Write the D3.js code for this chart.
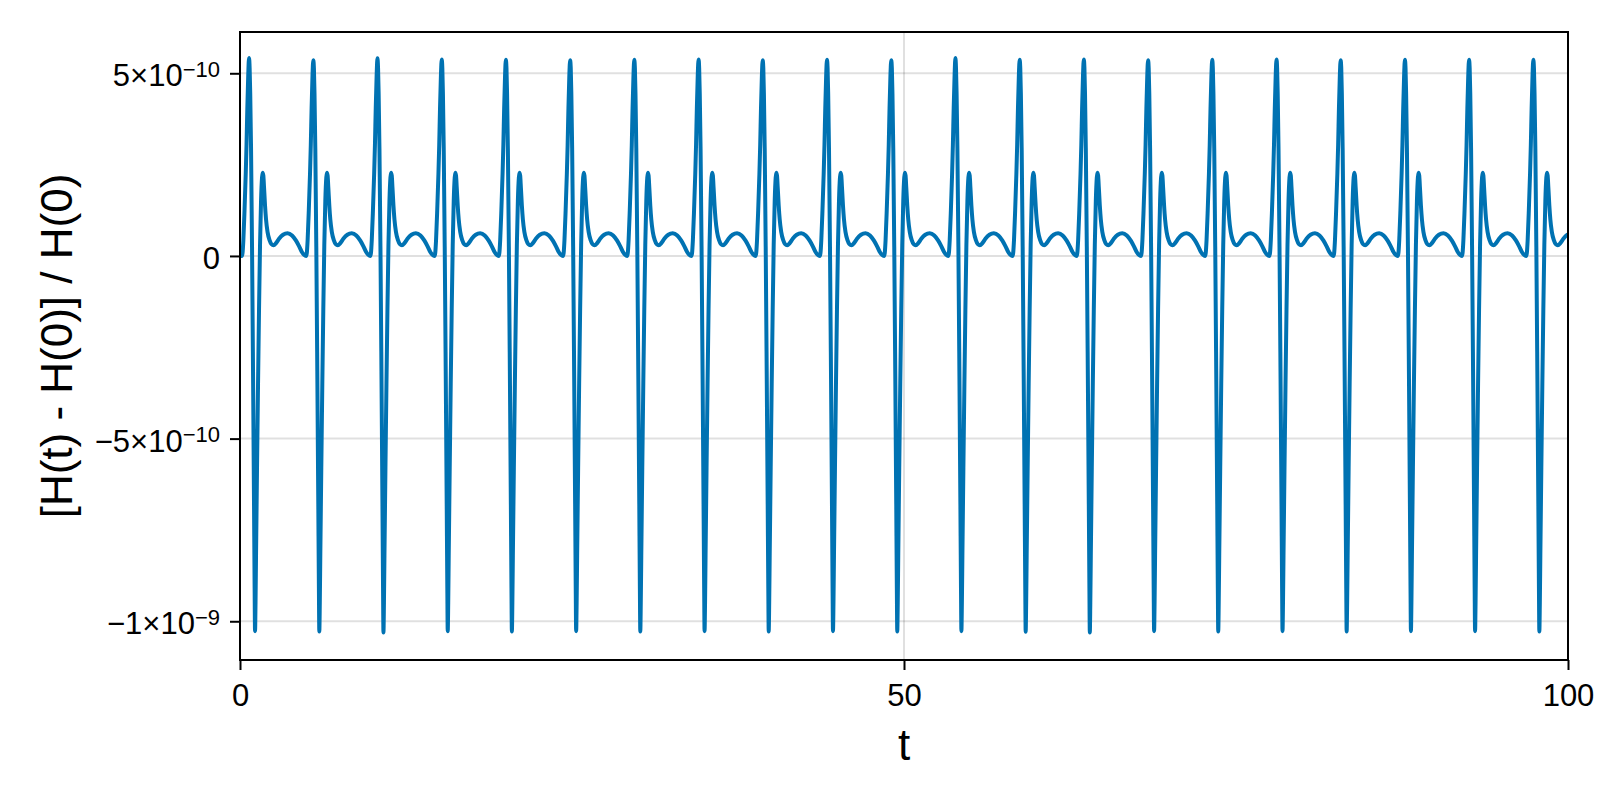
<!DOCTYPE html>
<html>
<head>
<meta charset="utf-8">
<script src="https://cdn.jsdelivr.net/npm/d3@7"></script>
<style>
  html, body { margin: 0; padding: 0; background: #fff; }
  svg { display: block; }
  text { font-family: "Liberation Sans", Arial, Helvetica, sans-serif; fill: #000; }
</style>
</head>
<body>
<div id="chart"></div>
<script>
// values on the y axis are in units of 1e-10

// time of each main spike
const peakTimes = [0.68, 5.52, 10.35, 15.19, 20.02, 24.86, 29.69, 34.53, 39.36, 44.20, 49.04,
  53.87, 58.71, 63.54, 68.38, 73.21, 78.05, 82.88, 87.72, 92.55, 97.39];
// height of the spike and depth of the dip that follows it, per cycle
const peakVals = [5.42, 5.36, 5.41, 5.38, 5.37, 5.36, 5.37, 5.38, 5.36, 5.37, 5.36,
  5.42, 5.37, 5.38, 5.36, 5.37, 5.38, 5.36, 5.37, 5.37, 5.37];
const dipVals = [-10.27, -10.28, -10.31, -10.27, -10.28, -10.27, -10.28, -10.27, -10.28, -10.27, -10.28,
  -10.27, -10.29, -10.31, -10.27, -10.28, -10.27, -10.28, -10.27, -10.27, -10.28];

// shape of one cycle: time offset from the spike, and value
const cycleOffsets = [-0.542, -0.489, -0.429, -0.339, -0.248, -0.188, -0.128, -0.060, 0,
  0.045, 0.090, 0.151, 0.226, 0.301, 0.377, 0.422, 0.452, 0.489, 0.527, 0.602, 0.678,
  0.753, 0.828, 0.904, 0.979, 1.024, 1.077, 1.130, 1.205, 1.280, 1.393, 1.544, 1.694,
  1.845, 2.033, 2.259, 2.560, 2.899, 3.238, 3.539, 3.765, 3.991, 4.142];
const cycleValues = [0.00, 0.08, 0.42, 1.25, 2.25, 3.05, 4.05, 4.95, 5.39,
  5.15, 4.45, 2.95, 0.25, -3.15, -6.85, -9.10, -10.28, -9.50, -8.20, -5.80, -3.50,
  -1.45, 0.30, 1.50, 2.15, 2.28, 2.20, 1.88, 1.38, 1.00, 0.66, 0.43, 0.32,
  0.29, 0.35, 0.47, 0.58, 0.62, 0.56, 0.42, 0.27, 0.10, 0.03];

const xTicks = [0, 50, 100];
const xTickLabels = ["0", "50", "100"];
const yTicks = [-10, -5, 0, 5];
const yTickBase = ["\u22121\u00d710", "\u22125\u00d710", "0", "5\u00d710"];
const yTickExp = ["\u22129", "\u221210", "", "\u221210"];

const xLabel = "t";
const yLabel = "[H(t) - H(0)] / H(0)";

const width = 1600, height = 800;
const margin = { left: 240, right: 32, top: 32, bottom: 140 };
const lineColor = "#0072b2";

let x = d3.scaleLinear().domain([0, 100]).range([margin.left, width - margin.right]);
let y = d3.scaleLinear().domain([-11.06, 6.13]).range([height - margin.bottom, margin.top]);

// Build the series from the start value and the cycles
let series = [[0, 0]];
let peakIdx = cycleOffsets.indexOf(0);
let dipIdx = cycleValues.indexOf(d3.min(cycleValues));
peakTimes.forEach(function (p, k) {
  cycleOffsets.forEach(function (o, i) {
    let v = cycleValues[i];
    if (i === peakIdx) v = peakVals[k];
    if (i === dipIdx) v = dipVals[k];
    if (p + o > 0) series.push([p + o, v]);
  });
});

let svg = d3.select("#chart").append("svg")
  .attr("width", width)
  .attr("height", height);

svg.append("rect")
  .attr("width", width)
  .attr("height", height)
  .style("fill", "white");

let x0 = x.range()[0], x1 = x.range()[1];
let y0 = y.range()[1], y1 = y.range()[0];

// grid
svg.append("g").selectAll("line")
  .data(xTicks)
  .enter().append("line")
  .attr("x1", d => x(d)).attr("x2", d => x(d))
  .attr("y1", y0).attr("y2", y1)
  .style("stroke", "rgba(0,0,0,0.12)")
  .style("stroke-width", 2);

svg.append("g").selectAll("line")
  .data(yTicks)
  .enter().append("line")
  .attr("x1", x0).attr("x2", x1)
  .attr("y1", d => y(d)).attr("y2", d => y(d))
  .style("stroke", "rgba(0,0,0,0.12)")
  .style("stroke-width", 2);

svg.append("clipPath")
  .attr("id", "plot-clip")
  .append("rect")
  .attr("x", x0).attr("y", y0)
  .attr("width", x1 - x0).attr("height", y1 - y0);

let line = d3.line()
  .x(d => x(d[0]))
  .y(d => y(d[1]))
  .curve(d3.curveMonotoneX);

svg.append("path")
  .datum(series)
  .attr("clip-path", "url(#plot-clip)")
  .attr("d", line)
  .style("fill", "none")
  .style("stroke", lineColor)
  .style("stroke-width", 4)
  .style("stroke-linejoin", "round");

// axes
let xAxis = svg.append("g")
  .attr("transform", `translate(0,${y1})`)
  .call(d3.axisBottom(x)
    .tickValues(xTicks)
    .tickFormat((d, i) => xTickLabels[i])
    .tickSize(10)
    .tickSizeOuter(0)
    .tickPadding(14));

let yAxis = svg.append("g")
  .attr("transform", `translate(${x0},0)`)
  .call(d3.axisLeft(y)
    .tickValues(yTicks)
    .tickFormat((d, i) => yTickBase[i])
    .tickSize(10)
    .tickSizeOuter(0)
    .tickPadding(10));

[xAxis, yAxis].forEach(function (g) {
  g.select(".domain").remove();
  g.selectAll(".tick line").style("stroke", "#000").style("stroke-width", 2);
  g.selectAll(".tick text")
    .style("font-family", "\"Liberation Sans\", Arial, sans-serif")
    .style("font-size", "31px")
    .style("fill", "#000");
});

yAxis.selectAll(".tick text")
  .attr("dy", "0.4em")
  .each(function (d, i) {
    if (yTickExp[i]) {
      d3.select(this).append("tspan")
        .attr("dy", "-0.42em")
        .style("font-size", "22px")
        .text(yTickExp[i]);
    }
  });

// spines
svg.append("rect")
  .attr("x", x0).attr("y", y0)
  .attr("width", x1 - x0).attr("height", y1 - y0)
  .style("fill", "none")
  .style("stroke", "#000")
  .style("stroke-width", 2);

svg.append("text")
  .attr("x", (x0 + x1) / 2)
  .attr("y", 760)
  .attr("text-anchor", "middle")
  .style("font-size", "44px")
  .text(xLabel);

svg.append("text")
  .attr("transform", `translate(72,${(y0 + y1) / 2}) rotate(-90)`)
  .attr("text-anchor", "middle")
  .style("font-size", "44px")
  .text(yLabel);
</script>
</body>
</html>
